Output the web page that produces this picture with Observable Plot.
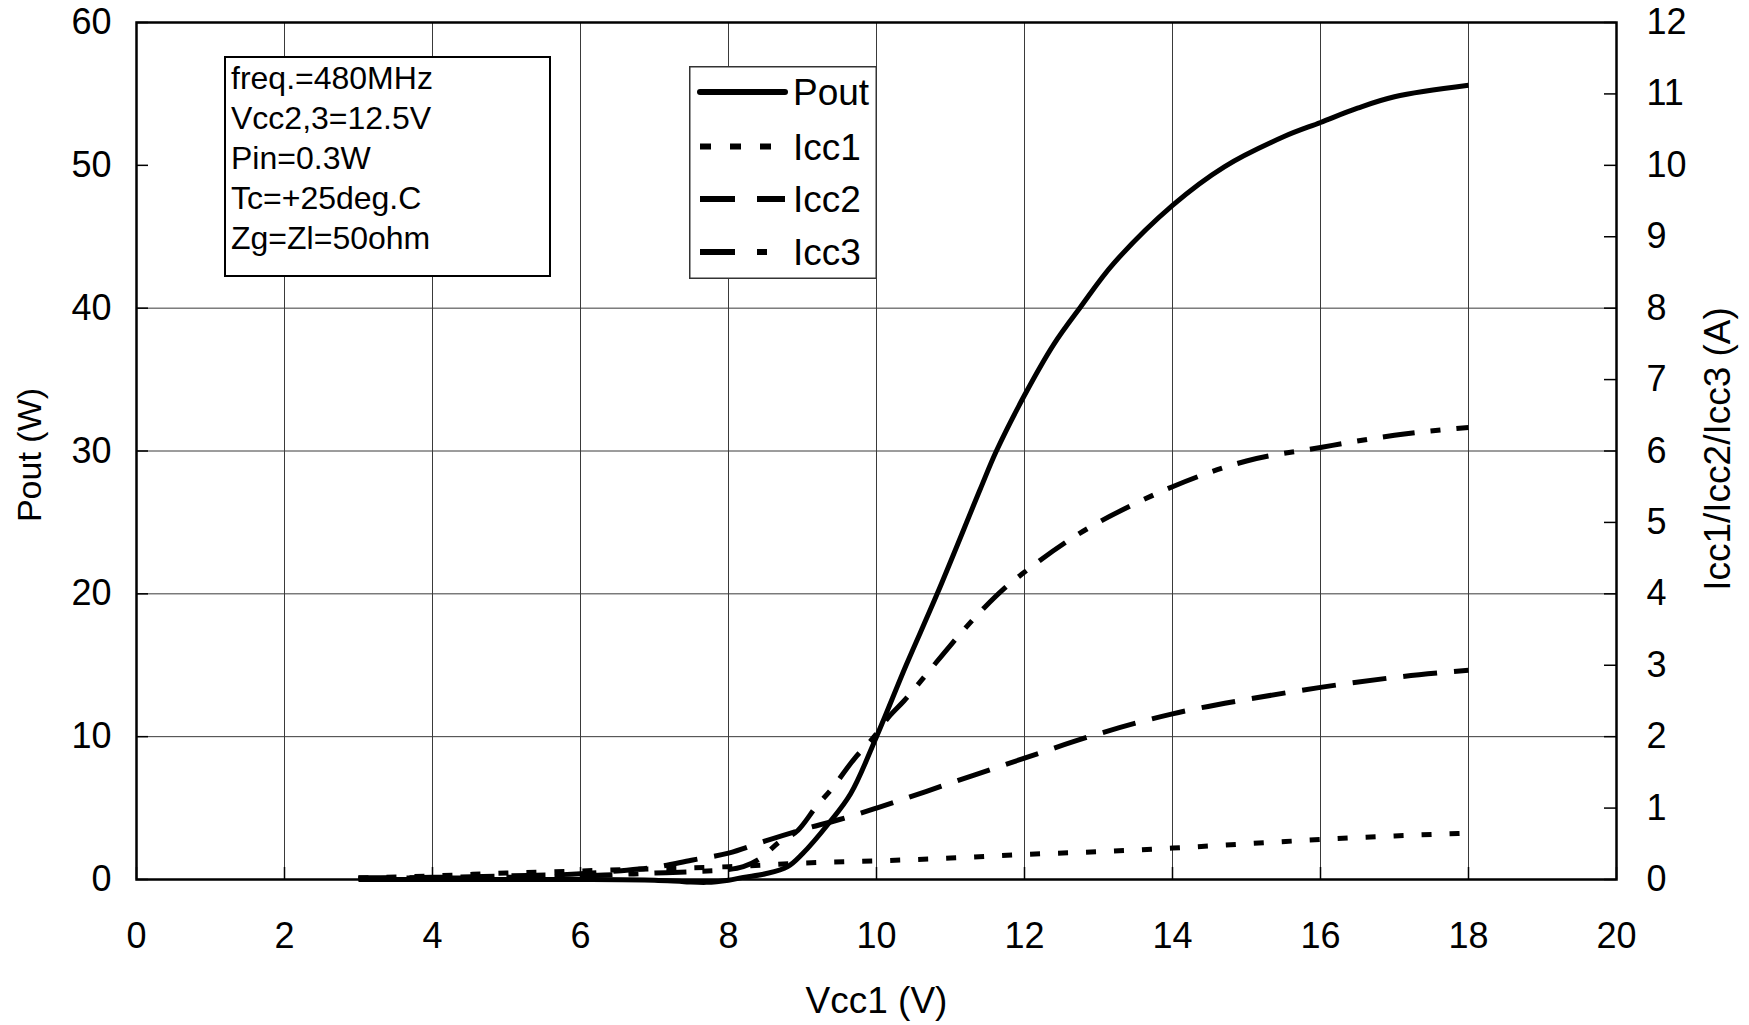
<!DOCTYPE html>
<html>
<head>
<meta charset="utf-8">
<script src="https://cdn.jsdelivr.net/npm/d3@7"></script>
<script src="https://cdn.jsdelivr.net/npm/@observablehq/plot@0.6"></script>
<style>
  html, body { margin: 0; padding: 0; background: white; }
  #wrap { position: relative; width: 1749px; height: 1025px; font-family: "Liberation Sans", Arial, sans-serif; }
  #info { position: absolute; left: 224px; top: 56px; width: 318px; height: 217px; border: 2px solid black; background: white;
          font-size: 32px; line-height: 40px; padding-left: 5px; box-sizing: content-box; white-space: nowrap; }
  #legend { position: absolute; left: 689px; top: 66px; }
</style>
</head>
<body>
<div id="wrap"></div>
<script>
// ---- data ----
const xTicks = [0, 2, 4, 6, 8, 10, 12, 14, 16, 18, 20];
const poutTicks = [0, 10, 20, 30, 40, 50, 60];
const iccTicks = [0, 1, 2, 3, 4, 5, 6, 7, 8, 9, 10, 11, 12];
const gridXValues = [2, 4, 6, 8, 10, 12, 14, 16, 18];
const gridYValues = [10, 20, 30, 40];

const poutV = [3, 4, 5, 6, 7, 7.4, 7.7, 8.0, 8.2, 8.5, 8.8, 9.0, 9.35, 9.65, 10.0, 10.4, 10.82, 11.4, 11.62, 12.0, 12.4, 12.76, 13.2, 14.0, 14.7, 15.5, 16.0, 16.5, 17.0, 18.0];
const poutW = [0, 0, 0, 0, -0.05, -0.15, -0.2, -0.05, 0.15, 0.4, 0.9, 1.8, 3.9, 6.0, 10.0, 15.0, 20.0, 27.3, 30.0, 33.9, 37.5, 40.1, 43.1, 47.2, 49.9, 52.0, 53.0, 54.0, 54.8, 55.6];

const icc1V = [3, 4, 5, 6, 7, 8, 9, 10, 11, 12, 13, 14, 15, 16, 17, 18];
const icc1A = [0.02, 0.05, 0.09, 0.12, 0.15, 0.18, 0.23, 0.26, 0.30, 0.35, 0.39, 0.44, 0.50, 0.56, 0.61, 0.65];

const icc2V = [3, 4, 5, 6, 6.5, 7, 7.5, 8, 8.5, 9, 9.5, 10, 11, 12, 13, 14, 15, 16, 17, 18];
const icc2A = [0.02, 0.03, 0.05, 0.08, 0.12, 0.17, 0.27, 0.37, 0.54, 0.70, 0.84, 1.0, 1.35, 1.70, 2.04, 2.32, 2.52, 2.69, 2.83, 2.93];

const icc3V = [3, 4, 5, 6, 6.5, 7, 7.5, 8, 8.2, 8.42, 8.68, 8.94, 9.2, 9.38, 9.7, 9.96, 10.16, 10.37, 10.68, 11.0, 11.46, 11.72, 11.97, 12.75, 13.53, 14.0, 15.0, 16.0, 17.0, 18.0];
const icc3A = [0.02, 0.02, 0.03, 0.05, 0.07, 0.09, 0.11, 0.14, 0.18, 0.29, 0.52, 0.69, 1.04, 1.25, 1.69, 1.99, 2.27, 2.5, 2.88, 3.28, 3.81, 4.07, 4.28, 4.85, 5.28, 5.5, 5.86, 6.05, 6.22, 6.33];

const infoLines = ["freq.=480MHz", "Vcc2,3=12.5V", "Pin=0.3W", "Tc=+25deg.C", "Zg=Zl=50ohm"];
const legendNames = ["Pout", "Icc1", "Icc2", "Icc3"];
const xLabel = "Vcc1 (V)";
const yLabel = "Pout (W)";
const y2Label = "Icc1/Icc2/Icc3 (A)";

// ---- layout / style ----
const W = 1749, H = 1025, mL = 136, mR = 133, mT = 22, mB = 146;
const plotW = W - mL - mR, plotH = H - mT - mB;
const ratio = 5; // 60 W  <->  12 A
const font = "'Liberation Sans', Arial, sans-serif";
const dashes = ["none", "10,18", "34,17", "32,16,10,16"];

const pout = poutV.map((v, i) => ({v, p: poutW[i]}));
const icc1 = icc1V.map((v, i) => ({v, a: icc1A[i]}));
const icc2 = icc2V.map((v, i) => ({v, a: icc2A[i]}));
const icc3 = icc3V.map((v, i) => ({v, a: icc3A[i]}));

const lineOpts = {x: "v", stroke: "black", strokeWidth: 5, curve: "monotone-x", strokeLinecap: "butt", strokeLinejoin: "round"};

const chart = Plot.plot({
  width: W, height: H,
  marginLeft: mL, marginRight: mR, marginTop: mT, marginBottom: mB,
  x: {domain: [0, 20]},
  y: {domain: [0, 60]},
  style: {fontFamily: font, fontSize: "36px", color: "black", background: "white", overflow: "visible"},
  marks: [
    Plot.gridX(gridXValues, {stroke: "#3a3a3a", strokeOpacity: 1, strokeWidth: 1}),
    Plot.gridY(gridYValues, {stroke: "#3a3a3a", strokeOpacity: 1, strokeWidth: 1}),
    // inward tick marks
    Plot.ruleY(poutTicks, {y: d => d, insetRight: plotW - 12, stroke: "black", strokeWidth: 1.5}),
    Plot.ruleY(iccTicks, {y: d => d * ratio, insetLeft: plotW - 12, stroke: "black", strokeWidth: 1.5}),
    Plot.ruleX(xTicks, {x: d => d, insetTop: plotH - 12, stroke: "black", strokeWidth: 1.5}),
    // series
    Plot.line(icc1, {...lineOpts, y: d => d.a * ratio, strokeDasharray: dashes[1]}),
    Plot.line(icc2, {...lineOpts, y: d => d.a * ratio, strokeDasharray: dashes[2]}),
    Plot.line(icc3, {...lineOpts, y: d => d.a * ratio, strokeDasharray: dashes[3]}),
    Plot.line(pout, {...lineOpts, y: "p", curve: "catmull-rom"}),
    Plot.frame({stroke: "black", strokeWidth: 2.5}),
    // axes
    Plot.axisX(xTicks, {anchor: "bottom", tickSize: 0, tickPadding: 43, fontSize: 36, label: null}),
    Plot.axisY(poutTicks, {anchor: "left", tickSize: 0, tickPadding: 25, fontSize: 36, label: null}),
    Plot.axisY(iccTicks.map(d => d * ratio), {anchor: "right", tickSize: 0, tickPadding: 30, fontSize: 36, label: null, tickFormat: d => String(d / ratio)}),
    // axis titles
    Plot.text([xLabel], {text: d => d, frameAnchor: "bottom", dy: 122, fontSize: 37, lineAnchor: "middle", textAnchor: "middle"}),
    Plot.text([yLabel], {text: d => d, frameAnchor: "left", dx: -106, dy: 4, rotate: -90, fontSize: 34, lineAnchor: "middle", textAnchor: "middle"}),
    Plot.text([y2Label], {text: d => d, frameAnchor: "right", dx: 102, dy: -2, rotate: -90, fontSize: 37, lineAnchor: "middle", textAnchor: "middle"})
  ]
});

const wrap = document.getElementById("wrap");
wrap.appendChild(chart);

// info box
const info = document.createElement("div");
info.id = "info";
info.innerHTML = infoLines.map(t => `<div>${t}</div>`).join("");
wrap.appendChild(info);

// legend
const lg = d3.create("svg").attr("id", "legend").attr("width", 188).attr("height", 213)
  .style("font-family", font);
lg.append("rect").attr("x", 0.75).attr("y", 0.75).attr("width", 186.5).attr("height", 211.5)
  .attr("fill", "white").attr("stroke", "#333").attr("stroke-width", 1.5);
const rowsY = [26, 80.5, 133, 186];
legendNames.forEach((name, i) => {
  lg.append("line").attr("x1", 11).attr("x2", 96).attr("y1", rowsY[i]).attr("y2", rowsY[i])
    .attr("stroke", "black").attr("stroke-width", 6)
    .attr("stroke-dasharray", i === 0 ? null : (i === 1 ? "11,19" : i === 2 ? "35,22" : "35,22,10,40"))
    .attr("stroke-linecap", i === 0 ? "round" : "butt");
  lg.append("text").attr("x", 104).attr("y", rowsY[i] + 13).attr("font-size", 37).text(name);
});
wrap.appendChild(lg.node());
</script>
</body>
</html>
